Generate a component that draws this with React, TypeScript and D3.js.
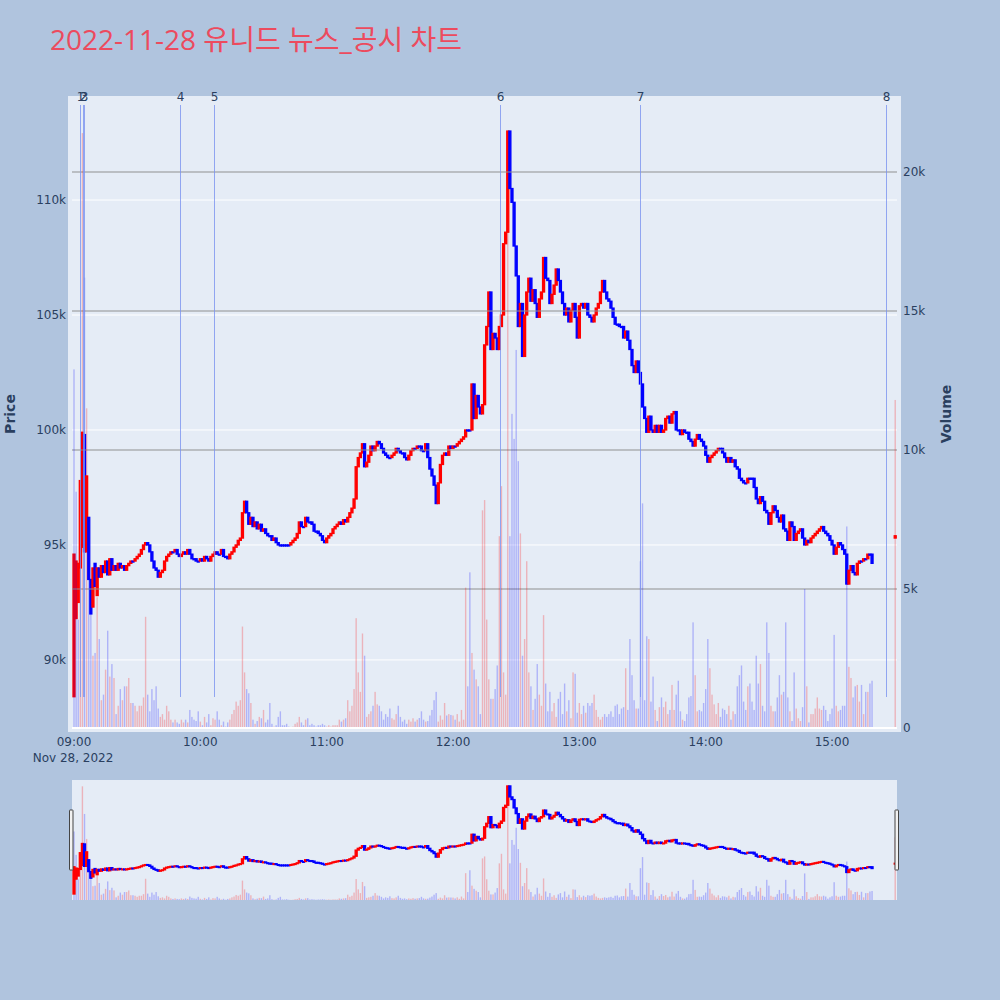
import * as d3 from 'd3';

// 1분봉 종가 (시간대별)
const close0900 = [
  94600, 94300, 94200, 97800, 99900, 94700, 98000, 93500, 92000, 94000,
  93200, 94000, 93600, 94100, 93800, 94300, 93700, 94400, 93900, 94100,
  93900, 94200, 94000, 94100, 93900, 94100, 94200, 94300, 94300, 94400,
  94500, 94600, 94800, 95000, 95100, 95000, 94700, 94300, 94000, 93900,
  93600, 93800, 93900, 94300, 94500, 94600, 94700, 94700, 94800, 94600,
  94500, 94600, 94700, 94600, 94800, 94600, 94400, 94400, 94300, 94300,
];
const close1000 = [
  94400, 94300, 94500, 94400, 94300, 94500, 94600, 94700, 94600, 94600,
  94800, 94500, 94500, 94400, 94600, 94700, 94900, 95000, 95200, 95300,
  96400, 96900, 96400, 95900, 96200, 95800, 96000, 95700, 95900, 95600,
  95700, 95500, 95400, 95400, 95200, 95300, 95100, 95000, 95000, 95000,
  95000, 95000, 95000, 95100, 95200, 95300, 95500, 96000, 95800, 95800,
  96200, 96000, 96000, 95900, 95600, 95600, 95500, 95400, 95200, 95100,
];
const close1100 = [
  95300, 95400, 95500, 95700, 95800, 95900, 96000, 95900, 96100, 96000,
  96200, 96400, 96600, 97000, 98400, 98800, 99000, 99400, 98400, 98600,
  98900, 99300, 99100, 99300, 99500, 99400, 99200, 99000, 98900, 98800,
  98800, 98900, 99000, 99200, 99100, 99000, 99000, 98800, 98700, 98900,
  99100, 99200, 99200, 99300, 99300, 99100, 99100, 99400, 98800, 98300,
  98000, 97600, 96800, 97700, 98500, 98900, 99000, 98900, 99300, 99200,
];
const close1200 = [
  99300, 99300, 99400, 99500, 99600, 99700, 100000, 100000, 100000, 102000,
  100500, 101500, 101000, 100700, 101100, 103700, 104500, 106000, 103500, 104200,
  104000, 103500, 104500, 105000, 108100, 108600, 113000, 110500, 109900, 108000,
  106700, 104500, 105500, 103200, 105000, 106000, 106600, 105600, 106100, 105500,
  104900, 105700, 106000, 107500, 106600, 106500, 105500, 105900, 106300, 107000,
  106500, 106000, 105500, 105000, 105300, 104700, 105200, 105500, 104900, 104000,
];
const close1300 = [
  105400, 105500, 105300, 105500, 105000, 104900, 104700, 105000, 105300, 105500,
  106000, 106500, 106000, 105700, 105600, 105300, 104900, 104600, 104600, 104500,
  104500, 104000, 104300, 103900, 103500, 102800, 102500, 103000, 102500, 102000,
  101000, 100500, 99900, 100600, 100000, 99900, 100200, 99900, 100200, 99900,
  100000, 100500, 100600, 100300, 100700, 100800, 100000, 100000, 99800, 100000,
  99900, 99900, 99600, 99500, 99300, 99600, 99800, 99600, 99500, 99300,
];
const close1400 = [
  98900, 98600, 98800, 98900, 99000, 99100, 99200, 99200, 99000, 98800,
  98600, 98800, 98600, 98700, 98400, 98300, 97900, 97800, 97700, 97700,
  97900, 97900, 97900, 97500, 97000, 96800, 97100, 96900, 96500, 96400,
  95900, 96400, 96700, 96500, 96200, 96000, 96300, 95700, 95600, 95200,
  96000, 95800, 95200, 95500, 95600, 95700, 95300, 95000, 95200, 95100,
  95300, 95400, 95500, 95600, 95700, 95800, 95600, 95500, 95400, 95200,
];
const close1500 = [
  95000, 94600, 94900, 95100, 95000, 94800, 94600, 93300, 93900, 94100,
  93800, 93700, 94200, 94300, 94300, 94400, 94400, 94600, 94600, 94200,
];

// 장 초반 시가 (이후는 직전 종가)
const firstOpens = [88400, 91800, 92500, 94000, 94900, 99800, 94700, 96200, 93500, 92300, 94200, 92800];
const prevDayClose = 95000;

// 거래량
const vol0900 = [
  12900, 8500, 3900, 6400, 21400, 16200, 11500, 6000, 4300, 2600,
  2700, 4700, 3200, 1000, 1200, 2100, 3500, 1850, 2300, 1800,
  500, 800, 1400, 1000, 1500, 1500, 1800, 900, 900, 800,
  600, 800, 800, 1100, 4000, 1200, 600, 1400, 1000, 1500,
  700, 400, 500, 300, 800, 600, 300, 200, 300, 200,
  150, 300, 200, 300, 200, 650, 400, 300, 250, 600,
];
const vol1000 = [
  230, 100, 400, 200, 500, 100, 350, 300, 600, 300,
  100, 230, 50, 200, 300, 500, 650, 950, 800, 1000,
  3650, 2000, 1400, 1250, 900, 300, 150, 250, 400, 350,
  650, 200, 300, 900, 150, 50, 100, 400, 600, 100,
  100, 150, 50, 20, 50, 150, 200, 400, 200, 100,
  300, 350, 100, 150, 100, 50, 100, 100, 150, 100,
];
const vol1100 = [
  50, 100, 50, 100, 100, 100, 300, 230, 300, 350,
  1000, 600, 800, 1400, 3950, 2000, 1300, 3400, 2600, 400,
  500, 600, 800, 1300, 850, 800, 600, 300, 500, 400,
  700, 350, 300, 500, 800, 400, 230, 300, 150, 300,
  230, 350, 230, 300, 360, 600, 300, 230, 250, 450,
  650, 1000, 1300, 230, 450, 300, 900, 450, 500, 470,
];
const vol1200 = [
  450, 300, 500, 230, 650, 300, 5050, 1500, 5600, 2700,
  2100, 1750, 1500, 500, 7830, 8200, 3900, 1750, 1050, 1050,
  1400, 2250, 6900, 8700, 2000, 1200, 17800, 6900, 11300, 10400,
  13600, 9600, 7000, 2600, 3200, 6000, 2000, 1500, 650, 1050,
  2300, 1200, 800, 4060, 1600, 600, 1300, 600, 900, 400,
  1050, 1300, 500, 1600, 600, 1000, 350, 2000, 1950, 550,
];
const vol1300 = [
  900, 500, 800, 550, 900, 800, 900, 1200, 650, 400,
  300, 400, 500, 400, 500, 600, 400, 800, 850, 500,
  700, 750, 2150, 650, 3200, 1900, 1000, 700, 700, 6000,
  8080, 1000, 3300, 3200, 950, 1850, 650, 250, 750, 1100,
  750, 950, 500, 650, 1550, 650, 1200, 1700, 600, 300,
  250, 500, 1100, 1150, 3800, 1900, 600, 650, 600, 900,
];
const vol1400 = [
  1400, 3200, 2150, 1200, 850, 500, 900, 400, 700, 650,
  500, 800, 300, 600, 500, 1500, 1900, 2250, 950, 650,
  1500, 1600, 950, 650, 2600, 1600, 2300, 800, 600, 3800,
  2700, 800, 600, 600, 1100, 1900, 1200, 1300, 3800, 1100,
  600, 250, 2000, 700, 350, 250, 750, 5000, 1500, 200,
  500, 500, 700, 1100, 700, 650, 800, 650, 250, 500,
];
const vol1500 = [
  700, 3350, 800, 600, 650, 800, 800, 7250, 2200, 1800,
  1100, 1500, 1550, 950, 1550, 500, 1300, 1300, 1600, 1700,
];

// 동시호가 (15:30)
const closingAuction = { time: '15:30', open: 95300, close: 95400, volume: 11800 };

// 뉴스/공시 시점
const newsTimes = ['09:02:50', '09:04:10', '09:04:50', '09:50:20', '10:06:15', '12:22:20', '13:28:50', '15:25:35'];
const newsLabels = ['1', '2', '3', '4', '5', '6', '7', '8'];

const priceTicks = [90000, 95000, 100000, 105000, 110000];
const volumeTicks = [0, 5000, 10000, 15000, 20000];
const timeTicks = ['09:00', '10:00', '11:00', '12:00', '13:00', '14:00', '15:00'];

const RED = '#ff0000';
const BLUE = '#0000ff';
const TITLE_FONT = "'Open Sans', 'Noto Sans CJK KR', sans-serif";
const FONT = "'DejaVu Sans', Verdana, sans-serif";
const AXIS_COLOR = '#2a3f5f';

const at = (hms: string) => {
  const [h, m, s] = hms.split(':').map(Number);
  return new Date(2022, 10, 28, h, m, s || 0);
};

export default function App() {
  const left = 72;
  const right = 897;
  const top = 100;
  const bottom = 728;
  const rsTop = 780;
  const rsBottom = 900;

  const closes = [...close0900, ...close1000, ...close1100, ...close1200, ...close1300, ...close1400, ...close1500];
  const volumes = [...vol0900, ...vol1000, ...vol1100, ...vol1200, ...vol1300, ...vol1400, ...vol1500];
  const start = at('09:00').getTime();

  const candles = closes.map((c, i) => {
    const o = i < firstOpens.length ? firstOpens[i] : closes[i - 1];
    const prev = i === 0 ? prevDayClose : closes[i - 1];
    return { t: new Date(start + i * 60000), o, c, v: volumes[i], volUp: c > prev };
  });
  candles.push({
    t: at(closingAuction.time),
    o: closingAuction.open,
    c: closingAuction.close,
    v: closingAuction.volume,
    volUp: closingAuction.close > closes[closes.length - 1],
  });

  const x = d3.scaleTime().domain([at('08:59:03'), at('15:30:51')]).range([left, right]);
  const yP = d3.scaleLinear().domain([87040, 114350]).range([bottom, top]);
  const yV = d3.scaleLinear().domain([0, 22590]).range([bottom, top]);
  const yPr = yP.copy().range([rsBottom, rsTop]);
  const yVr = yV.copy().range([rsBottom, rsTop]);
  const fmtK = d3.format('~s');
  const fmtTime = d3.timeFormat('%H:%M');

  const drawCandles = (yp: d3.ScaleLinear<number, number>, minH: number) =>
    candles.map((d, i) => {
      const col = d.c > d.o ? RED : BLUE;
      const y1 = yp(Math.max(d.o, d.c));
      const y2 = yp(Math.min(d.o, d.c));
      return (
        <rect
          key={i}
          x={x(d.t) - 1}
          y={y1}
          width={2}
          height={Math.max(y2 - y1, minH)}
          fill={col}
          stroke={col}
          strokeWidth={1.3}
        />
      );
    });

  const drawVolume = (yv: d3.ScaleLinear<number, number>, base: number) =>
    candles.map((d, i) => (
      <rect
        key={i}
        x={x(d.t) - 0.7}
        y={yv(d.v)}
        width={1.4}
        height={base - yv(d.v)}
        fill={d.volUp ? RED : BLUE}
        fillOpacity={0.24}
      />
    ));

  return (
    <div style={{ position: 'absolute', left: 0, top: 0 }}>
      <svg width={1000} height={1000} style={{ display: 'block' }}>
        <rect x={0} y={0} width={1000} height={1000} fill="#b0c4de" />
        <text x={50} y={50} fontSize={28} fill="#ec4b5e" fontFamily={TITLE_FONT}>
          2022-11-28 유니드 뉴스_공시 차트
        </text>

        {/* 메인 차트 */}
        <rect x={68} y={96} width={833} height={636} fill="#e5ecf6" />
        {priceTicks.map((p) => (
          <line key={p} x1={left} x2={right} y1={yP(p)} y2={yP(p)} stroke="#fff" strokeWidth={1} />
        ))}
        <g>{drawCandles(yP, 1)}</g>
        {volumeTicks.slice(1).map((v) => (
          <line key={v} x1={left} x2={right} y1={yV(v)} y2={yV(v)} stroke="#8f8f8f" strokeWidth={1.2} />
        ))}
        <g>{drawVolume(yV, bottom)}</g>
        <line x1={left} x2={right} y1={bottom} y2={bottom} stroke="#fff" strokeWidth={2} />

        {newsTimes.map((t, i) => {
          const xi = Math.round(x(at(t))) + 0.5;
          return (
            <g key={t}>
              <line x1={xi} x2={xi} y1={105} y2={697} stroke="#7b93f0" strokeOpacity={0.8} strokeWidth={1} />
              <text x={xi} y={101} textAnchor="middle" fontSize={12} fill={AXIS_COLOR} fontFamily={FONT}>
                {newsLabels[i]}
              </text>
            </g>
          );
        })}

        {/* 축 라벨 */}
        {priceTicks.map((p) => (
          <text key={p} x={66} y={yP(p) + 4} textAnchor="end" fontSize={12} fill={AXIS_COLOR} fontFamily={FONT}>
            {fmtK(p)}
          </text>
        ))}
        {volumeTicks.map((v) => (
          <text key={v} x={903} y={yV(v) + 4} fontSize={12} fill={AXIS_COLOR} fontFamily={FONT}>
            {fmtK(v)}
          </text>
        ))}
        {timeTicks.map((t, i) => (
          <g key={t}>
            <text x={x(at(t))} y={746} textAnchor="middle" fontSize={12} fill={AXIS_COLOR} fontFamily={FONT}>
              {fmtTime(at(t))}
            </text>
            {i === 0 && (
              <text x={x(at(t)) - 1} y={762} textAnchor="middle" fontSize={12} fill={AXIS_COLOR} fontFamily={FONT}>
                Nov 28, 2022
              </text>
            )}
          </g>
        ))}
        <text
          transform="translate(15,414) rotate(-90)"
          textAnchor="middle"
          fontSize={14}
          fontWeight="bold"
          fill={AXIS_COLOR}
          fontFamily={FONT}
        >
          Price
        </text>
        <text
          transform="translate(951,414) rotate(-90)"
          textAnchor="middle"
          fontSize={14}
          fontWeight="bold"
          fill={AXIS_COLOR}
          fontFamily={FONT}
        >
          Volume
        </text>

        {/* 레인지 슬라이더 */}
        <rect x={left} y={rsTop} width={right - left} height={rsBottom - rsTop} fill="#e5ecf6" />
        <g>{drawVolume(yVr, rsBottom)}</g>
        <g>{drawCandles(yPr, 0.8)}</g>
        <rect x={69.5} y={810} width={3.5} height={60} fill="#f2f2f2" stroke="#444" strokeWidth={1} rx={0.5} />
        <rect x={895} y={810} width={3.5} height={60} fill="#f2f2f2" stroke="#444" strokeWidth={1} rx={0.5} />
      </svg>
    </div>
  );
}
